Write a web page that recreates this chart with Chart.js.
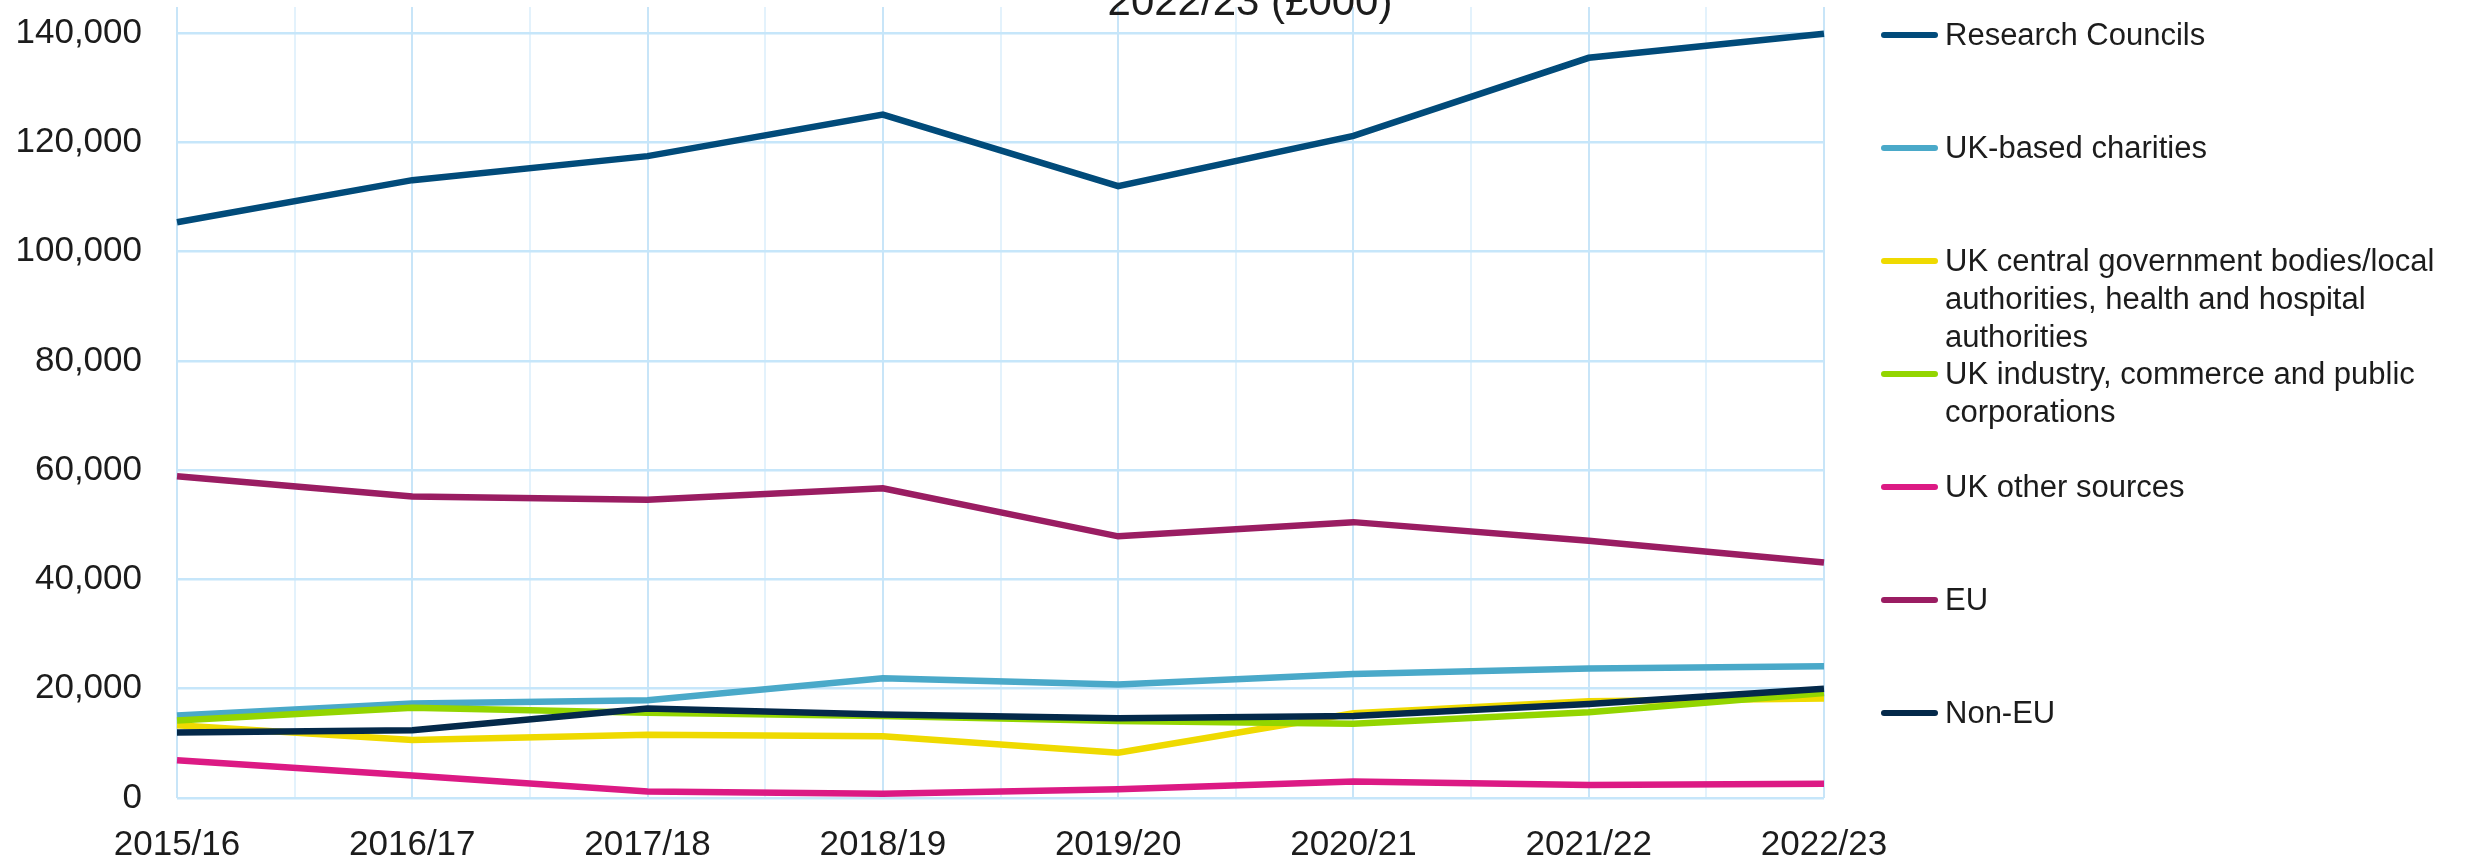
<!DOCTYPE html>
<html>
<head>
<meta charset="utf-8">
<script src="https://cdn.jsdelivr.net/npm/chart.js@4.4.1/dist/chart.umd.min.js"></script>
<style>
  html, body { margin: 0; padding: 0; background: #fff; overflow: hidden; }
  #wrap { position: relative; width: 2465px; height: 864px; overflow: hidden; font-family: "Liberation Sans", Arial, sans-serif; color: #1c1c1c; }
  #chart { position: absolute; left: 0; top: 0; display: block; }
  #title { position: absolute; left: 1250px; top: -19.6px; transform: translateX(-50%); font-size: 42px; line-height: 42px; white-space: nowrap; }
  .item { position: absolute; left: 1881px; width: 560px; font-size: 31px; line-height: 38px; }
  .item .swatch { position: absolute; left: 0; top: 16px; width: 57px; height: 6px; border-radius: 3px; }
  .item .text { margin-left: 64px; width: 500px; }
</style>
</head>
<body>
<div id="wrap">
  <canvas id="chart" width="2465" height="864"></canvas>
  <div id="title">2022/23 (£000)</div>
  <div id="legend"></div>
</div>
<script>
const years = ["2015/16", "2016/17", "2017/18", "2018/19", "2019/20", "2020/21", "2021/22", "2022/23"];

const researchCouncils = [105400, 113100, 117500, 125100, 112000, 121200, 135500, 139900];
const ukCharities = [15100, 17300, 17900, 21900, 20800, 22700, 23700, 24100];
const ukCentralGov = [13300, 10600, 11600, 11300, 8300, 15500, 17700, 18200];
const ukIndustry = [14200, 16500, 15600, 15000, 14100, 13600, 15700, 19200];
const ukOther = [6900, 4100, 1200, 800, 1600, 3000, 2400, 2600];
const eu = [58900, 55200, 54600, 56700, 47900, 50500, 47100, 43100];
const nonEu = [12000, 12400, 16400, 15300, 14600, 15000, 17200, 20000];

const seriesNames = [
  "Research Councils",
  "UK-based charities",
  "UK central government bodies/local authorities, health and hospital authorities",
  "UK industry, commerce and public corporations",
  "UK other sources",
  "EU",
  "Non-EU"
];
const seriesValues = [researchCouncils, ukCharities, ukCentralGov, ukIndustry, ukOther, eu, nonEu];
const seriesColors = ["#014b7a", "#4aa9c9", "#efda00", "#93d500", "#dc1a84", "#9a1d62", "#04294a"];

const yTicks = [0, 20000, 40000, 60000, 80000, 100000, 120000, 140000];

const tickFont = { family: "'Liberation Sans', Arial, sans-serif", size: 35, lineHeight: 1.2 };

const datasets = seriesNames.map((name, i) => ({
  label: name,
  data: seriesValues[i],
  borderColor: seriesColors[i],
  backgroundColor: seriesColors[i],
  borderWidth: 6.5,
  pointRadius: 0,
  tension: 0,
  fill: false,
  order: -i  // later series drawn on top, like Excel
}));

new Chart(document.getElementById("chart"), {
  type: "line",
  data: { labels: years, datasets: datasets },
  options: {
    responsive: false,
    devicePixelRatio: 1,
    animation: false,
    layout: { padding: { top: 7, right: 641, bottom: 0, left: 0 } },
    plugins: { legend: { display: false }, title: { display: false }, tooltip: { enabled: false } },
    scales: {
      x: {
        type: "category",
        offset: false,
        grid: { display: false, drawTicks: false },
        border: { display: false },
        ticks: { color: "#1c1c1c", font: tickFont, padding: 26, maxRotation: 0, autoSkip: false },
        afterFit: (s) => { s.height = 66; s.paddingLeft = 0; s.paddingRight = 0; }
      },
      x2: {
        type: "linear",
        position: "bottom",
        min: 0,
        max: years.length - 1,
        ticks: { display: false, stepSize: 0.5 },
        grid: {
          drawTicks: false,
          lineWidth: 2,
          color: (ctx) => (ctx.tick && ctx.tick.value % 1 === 0 ? "#c8e5f8" : "#e3f2fc")
        },
        border: { display: false },
        afterFit: (s) => { s.height = 0; s.paddingLeft = 0; s.paddingRight = 0; }
      },
      y: {
        min: 0,
        max: 144800,
        grid: { color: "#c6e6fa", lineWidth: 2.5, drawTicks: false },
        border: { display: false },
        ticks: {
          stepSize: 20000,
          color: "#1c1c1c",
          font: tickFont,
          padding: 35,
          callback: (v) => v.toLocaleString("en-GB")
        },
        afterBuildTicks: (s) => { s.ticks = yTicks.map((v) => ({ value: v })); },
        afterFit: (s) => { s.width = 177; s.paddingTop = 0; s.paddingBottom = 0; }
      }
    }
  }
});

// legend on the right, one slot per series
const legend = document.getElementById("legend");
seriesNames.forEach((name, i) => {
  const item = document.createElement("div");
  item.className = "item";
  item.style.top = (16 + i * 113) + "px";
  const sw = document.createElement("span");
  sw.className = "swatch";
  sw.style.background = seriesColors[i];
  const txt = document.createElement("div");
  txt.className = "text";
  txt.textContent = name;
  item.appendChild(sw);
  item.appendChild(txt);
  legend.appendChild(item);
});
</script>
</body>
</html>
